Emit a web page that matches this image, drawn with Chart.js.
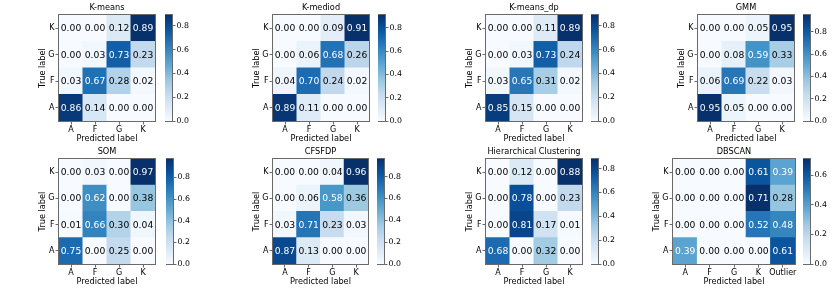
<!DOCTYPE html>
<html>
<head>
<meta charset="utf-8">
<script src="https://cdn.jsdelivr.net/npm/chart.js@4.4.1/dist/chart.umd.min.js"></script>
<style>
  body { margin: 0; background: #fff; }
  #wrap { position: relative; width: 837px; height: 293px; overflow: hidden; background: #fff; }
  #wrap canvas { position: absolute; }
</style>
</head>
<body>
<div id="wrap"></div>
<script>
// rows = true label A, F, G, K (bottom to top), columns = predicted label
const trueLabels = ['A', 'F', 'G', 'K'];
const classLabels = ['A', 'F', 'G', 'K'];
const dbscanLabels = ['A', 'F', 'G', 'K', 'Outlier'];

const kmeans = [[0.86, 0.14, 0.00, 0.00], [0.03, 0.67, 0.28, 0.02], [0.00, 0.03, 0.73, 0.23], [0.00, 0.00, 0.12, 0.89]];
const kmediod = [[0.89, 0.11, 0.00, 0.00], [0.04, 0.70, 0.24, 0.02], [0.00, 0.06, 0.68, 0.26], [0.00, 0.00, 0.09, 0.91]];
const kmeansDp = [[0.85, 0.15, 0.00, 0.00], [0.03, 0.65, 0.31, 0.02], [0.00, 0.03, 0.73, 0.24], [0.00, 0.00, 0.11, 0.89]];
const gmm = [[0.95, 0.05, 0.00, 0.00], [0.06, 0.69, 0.22, 0.03], [0.00, 0.08, 0.59, 0.33], [0.00, 0.00, 0.05, 0.95]];
const som = [[0.75, 0.00, 0.25, 0.00], [0.01, 0.66, 0.30, 0.04], [0.00, 0.62, 0.00, 0.38], [0.00, 0.03, 0.00, 0.97]];
const cfsfdp = [[0.87, 0.13, 0.00, 0.00], [0.03, 0.71, 0.23, 0.03], [0.00, 0.06, 0.58, 0.36], [0.00, 0.00, 0.04, 0.96]];
const hierarchical = [[0.68, 0.00, 0.32, 0.00], [0.00, 0.81, 0.17, 0.01], [0.00, 0.78, 0.00, 0.23], [0.00, 0.12, 0.00, 0.88]];
const dbscan = [[0.39, 0.00, 0.00, 0.00, 0.61], [0.00, 0.00, 0.00, 0.52, 0.48], [0.00, 0.00, 0.00, 0.71, 0.28], [0.00, 0.00, 0.00, 0.61, 0.39]];

const titles = ['K-means', 'K-mediod', 'K-means_dp', 'GMM', 'SOM', 'CFSFDP', 'Hierarchical Clustering', 'DBSCAN'];
const matrices = [kmeans, kmediod, kmeansDp, gmm, som, cfsfdp, hierarchical, dbscan];
const columnLabels = [classLabels, classLabels, classLabels, classLabels, classLabels, classLabels, classLabels, dbscanLabels];
const colorbarStep = 0.2;

// [matrix left, right, top, bottom, colorbar left]
const boxes = [
  [59, 155, 15, 121, 165], [273, 369, 15, 121, 378], [486, 582, 15, 121, 591], [698, 794, 15, 121, 803],
  [59, 155, 159, 264, 166], [273, 368, 159, 264, 377], [486, 582, 159, 264, 591], [673, 795, 159, 264, 803]
];

const FONT = "'DejaVu Sans', sans-serif";
const AXIS = '#6a6a6a';
Chart.defaults.font.family = FONT;

// matplotlib "Blues"
const blues = [[247, 251, 255], [222, 235, 247], [198, 219, 239], [158, 202, 225], [107, 174, 214],
  [66, 146, 198], [33, 113, 181], [8, 81, 156], [8, 48, 107]];

function bluesAt(t) {
  t = Math.min(1, Math.max(0, t)) * 8;
  const i = Math.min(7, Math.floor(t));
  const f = t - i;
  const a = blues[i], b = blues[i + 1];
  return 'rgb(' + a.map((v, k) => Math.round(v + (b[k] - v) * f)).join(',') + ')';
}

const wrap = document.getElementById('wrap');

function makeCanvas(x, y, w, h) {
  const c = document.createElement('canvas');
  c.width = w;
  c.height = h;
  c.style.left = x + 'px';
  c.style.top = y + 'px';
  c.style.width = w + 'px';
  c.style.height = h + 'px';
  wrap.appendChild(c);
  return c;
}

const frame = {
  id: 'frame',
  afterDatasetsDraw(chart) {
    const { ctx, chartArea: a } = chart;
    ctx.save();
    ctx.strokeStyle = AXIS;
    ctx.lineWidth = 1;
    ctx.strokeRect(Math.round(a.left) - 0.5, Math.round(a.top) - 0.5,
      Math.round(a.right) - Math.round(a.left) + 1, Math.round(a.bottom) - Math.round(a.top) + 1);
    ctx.restore();
  }
};

function drawMatrix(i) {
  const cm = matrices[i];
  const cols = columnLabels[i];
  const [L, R, T, B] = boxes[i];
  const vmax = Math.max(...cm.flat());
  const canvas = makeCanvas(L - 26, T - 15, R - L + 34, B - T + 40);

  const cellText = {
    id: 'cellText',
    afterDatasetsDraw(chart) {
      const { ctx, scales: { x, y } } = chart;
      ctx.save();
      ctx.font = '9.2px ' + FONT;
      ctx.textAlign = 'center';
      ctx.textBaseline = 'middle';
      cm.forEach((row, r) => row.forEach((v, c) => {
        ctx.fillStyle = v > vmax / 2 ? '#fff' : '#000';
        ctx.fillText(v.toFixed(2), x.getPixelForValue(c), y.getPixelForValue(r + 0.5) + 0.5);
      }));
      ctx.restore();
    }
  };

  new Chart(canvas, {
    type: 'bar',
    data: {
      labels: cols,
      datasets: cm.map((row, r) => ({
        data: row.map(() => [r, r + 1]),
        backgroundColor: row.map(v => bluesAt(v / vmax)),
        borderWidth: 0,
        grouped: false,
        barPercentage: 1,
        categoryPercentage: 1,
        inflateAmount: 0.5
      }))
    },
    options: {
      responsive: false,
      animation: false,
      devicePixelRatio: 1,
      layout: { padding: { left: 0, right: 8, top: 0, bottom: 0 } },
      plugins: {
        legend: { display: false },
        tooltip: { enabled: false },
        title: {
          display: true,
          fullSize: false,
          text: titles[i],
          color: '#000',
          font: { size: 8.2, weight: 'normal' },
          padding: { top: 3, bottom: 2.2 }
        }
      },
      scales: {
        x: {
          type: 'category',
          grid: { offset: false, drawOnChartArea: false, tickLength: 3.5, color: AXIS },
          border: { display: false },
          ticks: { color: '#000', font: { size: 8 }, padding: 1, maxRotation: 0, autoSkip: false },
          title: { display: true, text: 'Predicted label', color: '#000', font: { size: 8.2 }, padding: { top: 0, bottom: 2.6 } },
          afterFit: s => { s.height = 25; }
        },
        y: {
          type: 'linear',
          min: 0,
          max: trueLabels.length,
          afterBuildTicks: s => { s.ticks = trueLabels.map((_, k) => ({ value: k + 0.5 })); },
          grid: { drawOnChartArea: false, tickLength: 3.5, color: AXIS },
          border: { display: false },
          ticks: { color: '#000', font: { size: 8 }, padding: 1, callback: v => trueLabels[Math.floor(v)] },
          title: { display: true, text: 'True label', color: '#000', font: { size: 8.2 }, padding: { top: 5, bottom: 0 } },
          afterFit: s => { s.width = 26; }
        }
      }
    },
    plugins: [cellText, frame]
  });
  return vmax;
}

function drawColorbar(i, vmax) {
  const [, , T, B, cbL] = boxes[i];
  const canvas = makeCanvas(cbL, T - 6, 7 + 22, B - T + 12);
  new Chart(canvas, {
    type: 'bar',
    data: {
      labels: [''],
      datasets: [{
        data: [[0, vmax]],
        backgroundColor: c => {
          const a = c.chart.chartArea;
          if (!a) return bluesAt(0.5);
          const g = c.chart.ctx.createLinearGradient(0, a.bottom, 0, a.top);
          blues.forEach((rgb, k) => g.addColorStop(k / 8, 'rgb(' + rgb.join(',') + ')'));
          return g;
        },
        borderWidth: 0,
        barPercentage: 1,
        categoryPercentage: 1
      }]
    },
    options: {
      responsive: false,
      animation: false,
      devicePixelRatio: 1,
      layout: { padding: { left: 0, right: 0, top: 6, bottom: 6 } },
      plugins: { legend: { display: false }, tooltip: { enabled: false } },
      scales: {
        x: { display: false },
        y: {
          position: 'right',
          min: 0,
          max: vmax,
          grid: { drawOnChartArea: false, tickLength: 3.5, color: AXIS },
          border: { display: false },
          ticks: {
            stepSize: colorbarStep,
            includeBounds: false,
            color: '#000',
            font: { size: 7.8 },
            padding: 1,
            callback: v => v.toFixed(1)
          },
          afterFit: s => { s.width = 22; }
        }
      }
    },
    plugins: [frame]
  });
}

matrices.forEach((_, i) => {
  const vmax = drawMatrix(i);
  drawColorbar(i, vmax);
});
</script>
</body>
</html>
